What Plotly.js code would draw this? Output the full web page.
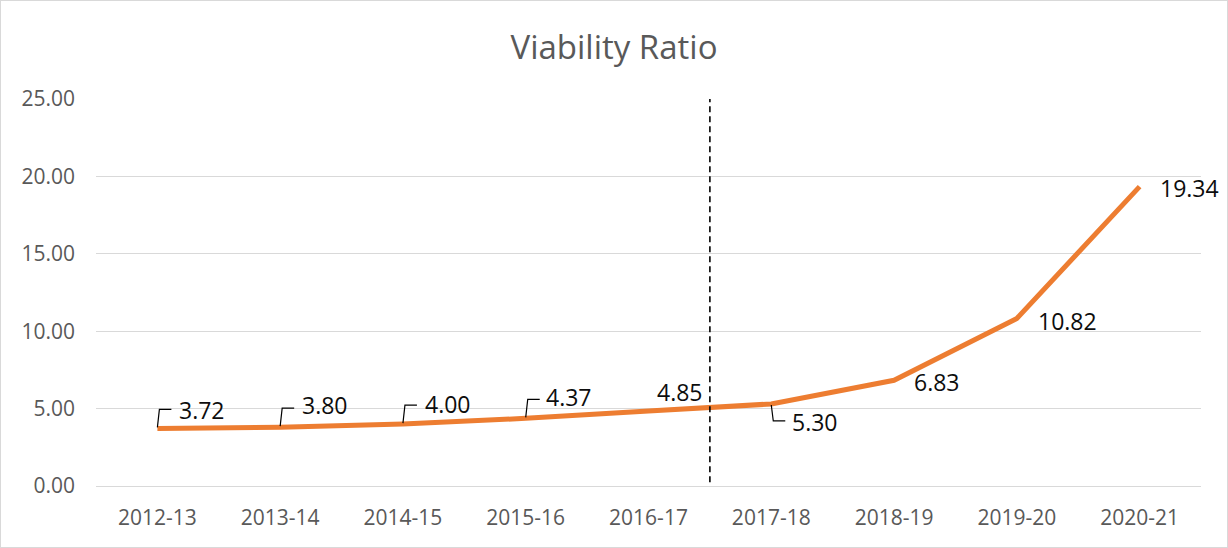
<!DOCTYPE html>
<html>
<head>
<meta charset="utf-8">
<script src="https://cdn.plot.ly/plotly-3.0.1.min.js"></script>
<style>
  html, body { margin: 0; padding: 0; background: #fff; }
  #chart { width: 1228px; height: 548px; box-sizing: border-box; border: 1px solid #d9d9d9; }
</style>
</head>
<body>
<div id="chart"></div>
<script>
// ---- data ----
const years = ['2012-13','2013-14','2014-15','2015-16','2016-17','2017-18','2018-19','2019-20','2020-21'];
const viability = [3.72, 3.80, 4.00, 4.37, 4.85, 5.30, 6.83, 10.82, 19.34];
const dividerAfter = '2016-17';
const chartTitle = 'Viability Ratio';

// ---- label placement (pixels, relative to each point) ----
const labelShift = [[45,18],[45,22],[45,20],[43,21],[31,19],[44,-18],[43,-2],[51,-2],[50,-1]];
const leaderKind = ['up','up','up','up','none','down','none','none','none'];

const FONT = 'Open Sans, Noto Sans, sans-serif';

const annotations = years.map((yr, i) => ({
  x: i, y: viability[i], xref: 'x', yref: 'y',
  text: viability[i].toFixed(2), showarrow: false,
  xanchor: 'center', yanchor: 'middle',
  xshift: labelShift[i][0], yshift: labelShift[i][1],
  font: {family: FONT, size: 23, color: '#0d0d0d'}
}));

const shapes = [];
years.forEach((yr, i) => {
  if (leaderKind[i] === 'none') return;
  const path = leaderKind[i] === 'up' ? 'M 0 1 L 2 19 L 14 19' : 'M 0 -1 L 2 -17 L 14 -17';
  shapes.push({
    type: 'path', xref: 'x', yref: 'y',
    xsizemode: 'pixel', ysizemode: 'pixel',
    xanchor: i, yanchor: viability[i],
    path: path, line: {color: '#000', width: 1.2}
  });
});
const divIdx = years.indexOf(dividerAfter) + 0.5;
shapes.push({
  type: 'line', xref: 'x', yref: 'y', x0: divIdx, x1: divIdx, y0: 0.25, y1: 25.1,
  line: {color: '#000', width: 1.6, dash: '6px,4px'}, layer: 'above'
});

const trace = {
  type: 'scatter', mode: 'lines', x: years, y: viability,
  line: {color: '#ED7D31', width: 5}, hoverinfo: 'skip', cliponaxis: false
};

const layout = {
  width: 1226, height: 546,
  margin: {l: 95, r: 26, t: 98, b: 61},
  paper_bgcolor: '#fff', plot_bgcolor: '#fff',
  showlegend: false,
  title: {text: chartTitle, x: 0.5, xref: 'container', xanchor: 'center', y: 0.915, yref: 'container', yanchor: 'middle',
          font: {family: FONT, size: 33, color: '#595959'}},
  xaxis: {
    type: 'category', range: [-0.5, years.length - 0.5],
    showgrid: false, zeroline: false, showline: false, ticks: '',
    ticklabelstandoff: 17,
    tickfont: {family: FONT, size: 21, color: '#595959'}, fixedrange: true
  },
  yaxis: {
    range: [0, 25], dtick: 5, tick0: 0, tickformat: '.2f',
    showgrid: true, gridcolor: '#d9d9d9', gridwidth: 1,
    zeroline: true, zerolinecolor: '#d9d9d9', zerolinewidth: 1,
    showline: false, ticks: '', ticklabelstandoff: 20,
    tickfont: {family: FONT, size: 21, color: '#595959'}, fixedrange: true
  },
  annotations: annotations,
  shapes: shapes
};

Plotly.newPlot('chart', [trace], layout, {displayModeBar: false, staticPlot: true});
</script>
</body>
</html>
